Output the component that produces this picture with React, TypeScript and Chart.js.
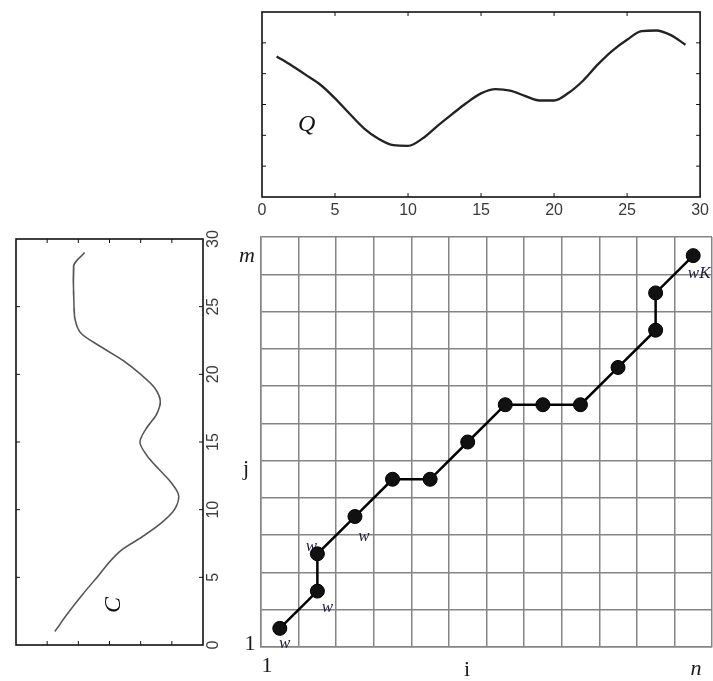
import React, { useEffect, useRef } from 'react';
import { Chart, registerables } from 'chart.js';

Chart.register(...registerables);

// ---- Top panel: series Q, sampled at i = 1..29 ----
const qIndex = [1, 2, 3, 4, 5, 6, 7, 8, 9, 10, 11, 12, 13, 14, 15, 16, 17, 18, 19, 20, 21, 22, 23, 24, 25, 26, 27, 28, 29];
const qValues = [4.56, 4.27, 3.96, 3.64, 3.2, 2.7, 2.22, 1.88, 1.68, 1.66, 1.9, 2.3, 2.68, 3.05, 3.36, 3.5, 3.45, 3.28, 3.13, 3.13, 3.38, 3.78, 4.3, 4.75, 5.1, 5.38, 5.4, 5.25, 4.94];
const seriesTicks = [0, 5, 10, 15, 20, 25, 30];
const valueTicks = [0, 1, 2, 3, 4, 5, 6];

// ---- Left panel: series C, sampled at j = 1..29 ----
const cIndex = [1, 2, 3, 4, 5, 6, 7, 8, 9, 10, 11, 12, 13, 14, 15, 16, 17, 18, 19, 20, 21, 22, 23, 24, 25, 26, 27, 28, 29];
const cValues = [4.75, 4.45, 4.12, 3.77, 3.4, 3.05, 2.62, 1.95, 1.35, 0.92, 0.78, 1.02, 1.42, 1.8, 2.02, 1.82, 1.5, 1.37, 1.55, 2.0, 2.55, 3.25, 3.9, 4.1, 4.14, 4.15, 4.16, 4.15, 3.8];

// ---- Warping path on the cost matrix ----
const gridColumns = 12;
const gridRows = 11;
const pathI = [1, 2, 2, 3, 4, 5, 6, 7, 8, 9, 10, 11, 11, 12];
const pathJ = [1, 2, 3, 4, 5, 5, 6, 7, 7, 7, 8, 9, 10, 11];
const pathLabels = ['w', 'w', 'w', 'w', '', '', '', '', '', '', '', '', '', 'wK'];

const SANS = '"Liberation Sans", Arial, sans-serif';
const SERIF = '"Liberation Serif", "Times New Roman", serif';

function boxTicksPlugin(color: string, width: number, tickLen: number) {
  return {
    id: 'boxTicks',
    afterDatasetsDraw(chart: any) {
      const { ctx, chartArea: a, scales } = chart;
      ctx.save();
      ctx.strokeStyle = color;
      ctx.lineWidth = width;
      ctx.strokeRect(a.left, a.top, a.right - a.left, a.bottom - a.top);
      ctx.lineWidth = 1;
      ctx.beginPath();
      scales.x.ticks.forEach((t: any) => {
        const px = scales.x.getPixelForValue(t.value);
        if (px <= a.left + 1 || px >= a.right - 1) return;
        ctx.moveTo(px, a.top);
        ctx.lineTo(px, a.top + tickLen);
        ctx.moveTo(px, a.bottom);
        ctx.lineTo(px, a.bottom - tickLen);
      });
      scales.y.ticks.forEach((t: any) => {
        const py = scales.y.getPixelForValue(t.value);
        if (py <= a.top + 1 || py >= a.bottom - 1) return;
        ctx.moveTo(a.left, py);
        ctx.lineTo(a.left + tickLen, py);
        ctx.moveTo(a.right, py);
        ctx.lineTo(a.right - tickLen, py);
      });
      ctx.stroke();
      ctx.restore();
    },
  };
}

function letterPlugin(text: string, xv: number, yv: number) {
  return {
    id: 'letter',
    afterDatasetsDraw(chart: any) {
      const { ctx, scales } = chart;
      ctx.save();
      ctx.font = `italic 24px ${SERIF}`;
      ctx.fillStyle = '#111';
      ctx.textAlign = 'center';
      ctx.textBaseline = 'middle';
      ctx.fillText(text, scales.x.getPixelForValue(xv), scales.y.getPixelForValue(yv));
      ctx.restore();
    },
  };
}

function seriesConfig(xs: number[], ys: number[], color: string, lw: number, pad: any, axisH: number, labelPad: number, extra: any[]) {
  return {
    type: 'line' as const,
    data: {
      datasets: [
        {
          data: xs.map((x, k) => ({ x, y: ys[k] })),
          borderColor: color,
          borderWidth: lw,
          pointRadius: 0,
          fill: false,
          cubicInterpolationMode: 'monotone' as const,
        },
      ],
    },
    options: {
      animation: false as const,
      responsive: false,
      events: [],
      layout: { padding: pad, autoPadding: false },
      plugins: { legend: { display: false }, tooltip: { enabled: false } },
      scales: {
        x: {
          type: 'linear' as const,
          min: 0,
          max: 30,
          afterBuildTicks: (s: any) => {
            s.ticks = seriesTicks.map((v) => ({ value: v }));
          },
          grid: { display: false, drawTicks: false },
          border: { display: false },
          ticks: { color: '#3a3a3a', font: { family: SANS, size: 16 }, padding: labelPad, maxRotation: 0, minRotation: 0 },
          afterFit: (s: any) => {
            s.height = axisH;
          },
        },
        y: {
          type: 'linear' as const,
          min: 0,
          max: 6,
          afterBuildTicks: (s: any) => {
            s.ticks = valueTicks.map((v) => ({ value: v }));
          },
          ticks: { display: false },
          grid: { display: false, drawTicks: false },
          border: { display: false },
          afterFit: (s: any) => {
            s.width = 0;
          },
        },
      },
    },
    plugins: [boxTicksPlugin('#111', 1.6, 4), ...extra],
  };
}

const labelOffsets: [number, number][] = [
  [5, 15], [10, 16], [-6, -7], [9, 20], [0, 0], [0, 0], [0, 0], [0, 0], [0, 0], [0, 0], [0, 0], [0, 0], [0, 0], [6, 18],
];

const matrixTextPlugin = {
  id: 'matrixText',
  beforeDatasetsDraw(chart: any) {
    const { ctx, scales } = chart;
    ctx.save();
    ctx.font = `italic 17px ${SERIF}`;
    ctx.fillStyle = '#1c1c3a';
    ctx.textAlign = 'center';
    ctx.textBaseline = 'middle';
    pathLabels.forEach((t, k) => {
      if (!t) return;
      const px = scales.x.getPixelForValue(pathI[k]);
      const py = scales.y.getPixelForValue(pathJ[k]);
      ctx.fillText(t, px + labelOffsets[k][0], py + labelOffsets[k][1]);
    });
    ctx.restore();
  },
  afterDatasetsDraw(chart: any) {
    const { ctx, chartArea: a } = chart;
    ctx.save();
    ctx.fillStyle = '#1a1a1a';
    ctx.textAlign = 'center';
    ctx.textBaseline = 'middle';
    ctx.font = `italic 22px ${SERIF}`;
    ctx.fillText('m', a.left - 14, a.top + 19);
    ctx.fillText('n', a.right - 16, a.bottom + 22);
    ctx.font = `22px ${SERIF}`;
    ctx.fillText('j', a.left - 15, a.top + 232);
    ctx.fillText('1', a.left - 11, a.bottom - 3);
    ctx.fillText('1', a.left + 6, a.bottom + 19);
    ctx.fillText('i', a.left + 206, a.bottom + 23);
    ctx.restore();
  },
};

function matrixConfig() {
  const gridColor = '#858585';
  return {
    type: 'line' as const,
    data: {
      datasets: [
        {
          data: pathI.map((i, k) => ({ x: i, y: pathJ[k] })),
          borderColor: '#000',
          borderWidth: 2.5,
          pointRadius: 7,
          pointBackgroundColor: '#111',
          pointBorderColor: '#000',
          pointBorderWidth: 1,
          tension: 0,
          fill: false,
          clip: false,
        },
      ],
    },
    options: {
      animation: false as const,
      responsive: false,
      events: [],
      layout: { padding: { left: 31, right: 1, top: 12, bottom: 0 }, autoPadding: false },
      plugins: { legend: { display: false }, tooltip: { enabled: false } },
      scales: {
        x: {
          type: 'linear' as const,
          min: 0.5,
          max: gridColumns + 0.5,
          afterBuildTicks: (s: any) => {
            s.ticks = Array.from({ length: gridColumns + 1 }, (_, k) => ({ value: k + 0.5 }));
          },
          ticks: { display: false },
          grid: { color: gridColor, lineWidth: 1.5, drawTicks: false },
          border: { display: true, color: gridColor, width: 1.5 },
          afterFit: (s: any) => {
            s.height = 34;
          },
        },
        y: {
          type: 'linear' as const,
          min: 0.5,
          max: gridRows + 0.5,
          afterBuildTicks: (s: any) => {
            s.ticks = Array.from({ length: gridRows + 1 }, (_, k) => ({ value: k + 0.5 }));
          },
          ticks: { display: false },
          grid: { color: gridColor, lineWidth: 1.5, drawTicks: false },
          border: { display: true, color: gridColor, width: 1.5 },
          afterFit: (s: any) => {
            s.width = 0;
          },
        },
      },
    },
    plugins: [matrixTextPlugin],
  };
}

export default function App() {
  const qRef = useRef<HTMLCanvasElement>(null);
  const cRef = useRef<HTMLCanvasElement>(null);
  const mRef = useRef<HTMLCanvasElement>(null);

  useEffect(() => {
    const charts: Chart[] = [];
    if (qRef.current) {
      charts.push(
        new Chart(
          qRef.current,
          seriesConfig(qIndex, qValues, '#222', 2.3, { left: 12, right: 10, top: 12, bottom: 0 }, 28, 4, [letterPlugin('Q', 3.06, 2.33)]) as any
        )
      );
    }
    if (cRef.current) {
      charts.push(
        new Chart(
          cRef.current,
          seriesConfig(cIndex, cValues, '#555', 1.6, { left: 10, right: 10, top: 10, bottom: 0 }, 20, 1, [letterPlugin('C', 2.96, 2.88)]) as any
        )
      );
    }
    if (mRef.current) {
      charts.push(new Chart(mRef.current, matrixConfig() as any));
    }
    return () => charts.forEach((c) => c.destroy());
  }, []);

  return (
    <div style={{ position: 'absolute', left: 0, top: 0, width: 713, height: 681, background: '#fff', overflow: 'hidden' }}>
      <canvas ref={qRef} width={463} height={225} style={{ position: 'absolute', left: 250, top: 0 }} />
      <canvas
        ref={cRef}
        width={426}
        height={217}
        style={{ position: 'absolute', left: 6, top: 655, transformOrigin: '0 0', transform: 'rotate(-90deg)' }}
      />
      <canvas ref={mRef} width={483} height={456} style={{ position: 'absolute', left: 230, top: 225 }} />
    </div>
  );
}
